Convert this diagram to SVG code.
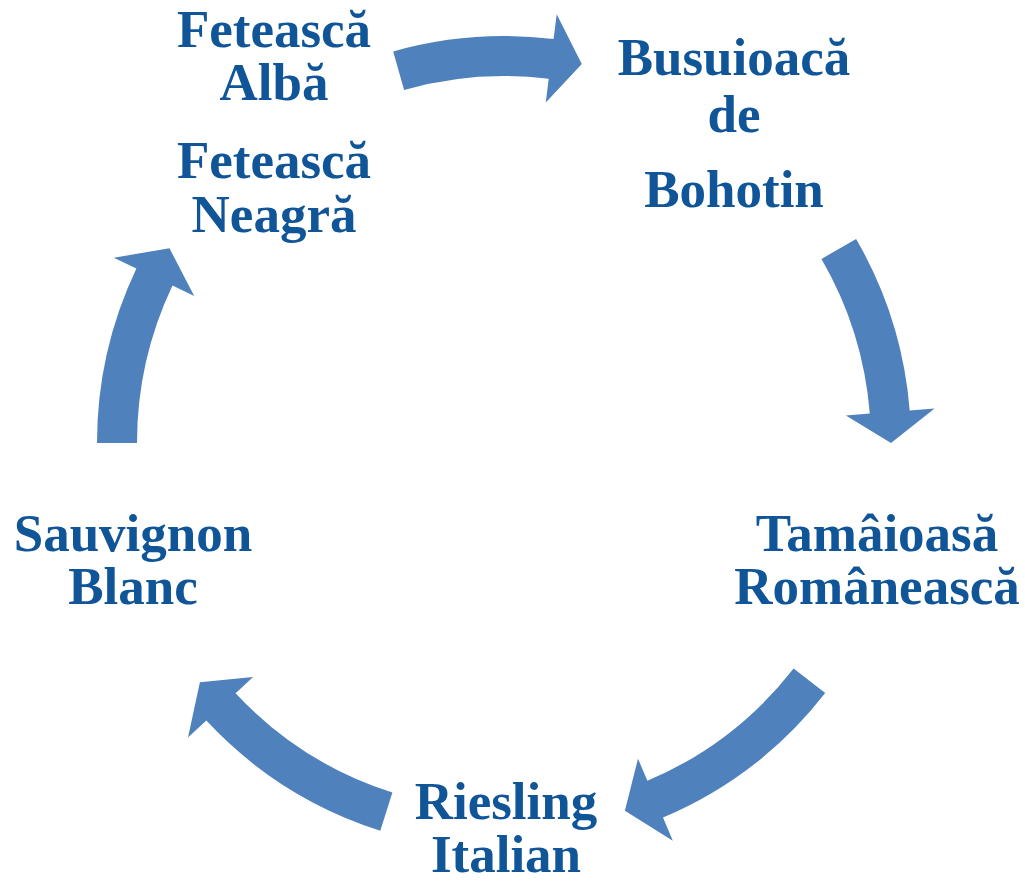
<svg xmlns="http://www.w3.org/2000/svg" width="1025" height="882" viewBox="0 0 1025 882">
<style>
.arrow{fill:#4F81BD;stroke:none}
.lbl{font-family:"Liberation Serif","Times New Roman",serif;font-weight:bold;font-size:53px;fill:#0F5597;text-anchor:middle}
</style>
<rect width="1025" height="882" fill="#FFFFFF"/>
<g id="connectors">
<path class="arrow" d="M393.2,51.4 A407,407 0 0,1 553.6,39.1 L556.7,14.2 L581.8,63.9 L545.8,102.6 L548.7,78.8 A367,367 0 0,0 404.1,89.9 Z"/>
<path class="arrow" d="M856.1,238.9 A407,407 0 0,1 909.7,410.4 L934.6,408.4 L891,443 L845.9,415.5 L869.8,413.6 A367,367 0 0,0 821.5,258.9 Z"/>
<path class="arrow" d="M825.2,693 A407,407 0 0,1 663,817.6 L672.8,840.7 L624.9,810.7 L638,758.7 L647.4,780.8 A367,367 0 0,0 793.6,668.4 Z"/>
<path class="arrow" d="M380.3,830.7 A407,407 0 0,1 206.3,720.6 L188,737.6 L199.9,682.3 L253.1,676.9 L235.6,693.3 A367,367 0 0,0 392.4,792.6 Z"/>
<path class="arrow" d="M97,443 A407,407 0 0,1 136.4,268.4 L113.8,257.7 L169.5,248.3 L194.2,295.9 L172.5,285.6 A367,367 0 0,0 137,443 Z"/>
</g>
<g id="node-feteasca">
<text class="lbl" x="274" y="47">Fetească</text>
<text class="lbl" x="274" y="100">Albă</text>
<text class="lbl" x="274" y="178">Fetească</text>
<text class="lbl" x="274" y="232">Neagră</text>
</g>
<g id="node-busuioaca">
<text class="lbl" x="734" y="75">Busuioacă</text>
<text class="lbl" x="734" y="132">de</text>
<text class="lbl" x="734" y="207">Bohotin</text>
</g>
<g id="node-tamaioasa">
<text class="lbl" x="877" y="551">Tamâioasă</text>
<text class="lbl" x="877" y="604">Românească</text>
</g>
<g id="node-riesling">
<text class="lbl" x="506" y="819">Riesling</text>
<text class="lbl" x="506" y="872">Italian</text>
</g>
<g id="node-sauvignon">
<text class="lbl" x="133" y="551">Sauvignon</text>
<text class="lbl" x="133" y="604">Blanc</text>
</g>
</svg>
